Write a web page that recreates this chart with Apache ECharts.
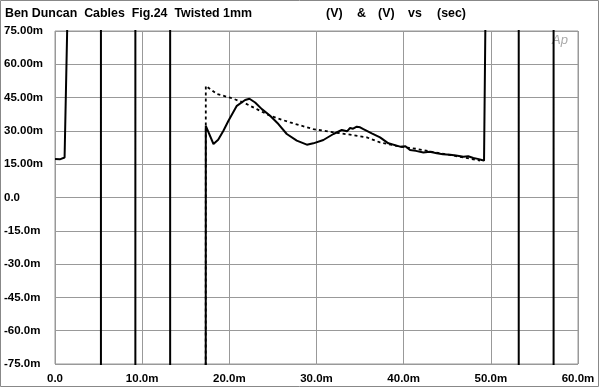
<!DOCTYPE html>
<html><head><meta charset="utf-8">
<script src="https://cdn.jsdelivr.net/npm/echarts@6/dist/echarts.min.js"></script>
<style>html,body{margin:0;padding:0;background:#fff}#c{width:600px;height:388px}</style>
</head><body><div id="c"></div>
<script>
// Tick labels
const yTickLabels = {"75":"75.00m","60":"60.00m","45":"45.00m","30":"30.00m","15":"15.00m","0":"0.0","-15":"-15.0m","-30":"-30.0m","-45":"-45.0m","-60":"-60.0m","-75":"-75.0m"};
const xTickLabels = {"0":"0.0","10":"10.0m","20":"20.0m","30":"30.0m","40":"40.0m","50":"50.0m","60":"60.0m"};
// Solid trace (x in ms, y in mV); values beyond ±75 run off-scale
const solidX = [0,0.55,0.6,1.1,1.42,1.5,5.27,5.27,9.22,9.22,13.21,13.21,17.28,17.30,18.18,18.72,19.32,19.90,20.86,21.81,22.31,22.96,23.73,24.68,25.63,26.59,27.74,28.89,29.64,30.79,31.94,32.90,33.50,33.85,34.20,34.62,35.00,35.38,36.34,37.29,38.25,39.59,40.20,40.73,41.40,42.26,43.00,43.80,44.50,45.32,46.00,46.85,47.40,47.99,48.50,48.96,49.22,49.38,49.55,53.2,53.2,57.2,57.2,60];
const solidY = [17.3,17.2,17.9,18.0,80,300,300,-300,-300,300,300,-300,-300,32.3,24.1,26.0,30.1,34.6,41.3,43.9,44.5,42.8,39.8,36.8,33.1,28.6,25.6,23.8,24.4,25.9,28.6,30.4,29.8,31.3,31.0,31.9,31.6,30.8,28.9,27.1,24.4,22.9,23.1,21.4,21.0,20.3,20.6,19.9,19.5,19.3,18.9,18.4,18.6,17.8,17.4,16.9,16.6,80,300,300,-300,-300,300,300];
// Dotted trace
const dotX = [17.27,17.30,18.57,20.09,21.62,23.15,24.68,26.97,29.64,31.56,33.85,35.77,37.29,39.59,41.50,44.17,46.85,48.76];
const dotY = [-300,50.3,46.6,45.0,42.8,39.8,36.8,33.8,30.8,29.6,28.3,27.1,24.8,22.9,21.9,19.9,18.1,16.6];
// Header texts
const titleText = 'Ben Duncan  Cables  Fig.24  Twisted 1mm';
const unitTexts = ['(V)', '&', '(V)', 'vs', '(sec)'];
const unitLeft = [326, 357, 378, 408, 437];

const zip = (xs, ys) => xs.map((x, i) => [x, ys[i]]);
const chart = echarts.init(document.getElementById('c'), null, {renderer: 'canvas'});
const font = '"Liberation Sans", Arial, sans-serif';
const graphics = [
  {type: 'rect', shape: {x: 0.5, y: 0.5, width: 598, height: 386}, style: {fill: 'none', stroke: '#888', lineWidth: 1}, z: -1},
  {type: 'text', left: 5, top: 8, style: {text: titleText, font: 'bold 12.4px ' + font, fill: '#000'}},
  {type: 'text', left: 552, top: 34, style: {text: 'Ap', font: 'italic 13px ' + font, fill: '#aaa'}}
];
unitTexts.forEach((t, i) => graphics.push({type: 'text', left: unitLeft[i], top: 8, style: {text: t, font: 'bold 12.4px ' + font, fill: '#000'}}));

chart.setOption({
  animation: false,
  backgroundColor: '#fff',
  grid: {left: 55, right: 22, top: 31, bottom: 24, show: true, borderColor: '#999', borderWidth: 1},
  graphic: graphics,
  xAxis: {
    type: 'value', min: 0, max: 60, interval: 10,
    axisLine: {show: false}, axisTick: {show: false},
    splitLine: {show: true, lineStyle: {color: '#999', width: 1}},
    axisLabel: {formatter: v => xTickLabels[String(v)] || '', color: '#000', fontFamily: font, fontWeight: 'bold', fontSize: 11.5, margin: 9}
  },
  yAxis: {
    type: 'value', min: -75, max: 75, interval: 15,
    axisLine: {show: false}, axisTick: {show: false},
    splitLine: {show: true, lineStyle: {color: '#999', width: 1}},
    axisLabel: {formatter: v => yTickLabels[String(v)] || '', color: '#000', fontFamily: font, fontWeight: 'bold', fontSize: 11.5, margin: 51, align: 'left'}
  },
  series: [
    {type: 'line', data: zip(dotX, dotY), showSymbol: false, clip: true, z: 3,
     lineStyle: {color: '#000', width: 1.8, type: [3, 3]}},
    {type: 'line', data: zip(solidX, solidY), showSymbol: false, clip: true, z: 4,
     lineStyle: {color: '#000', width: 2}}
  ]
});
</script></body></html>
